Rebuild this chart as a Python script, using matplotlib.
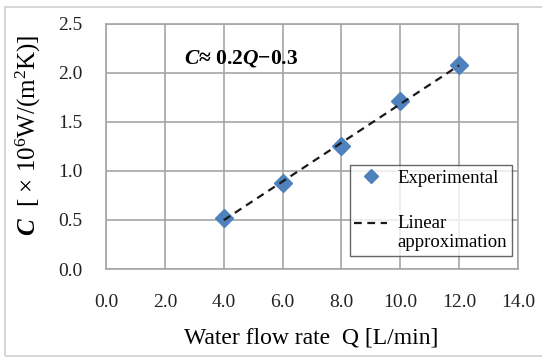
import numpy as np
import matplotlib.pyplot as plt
from matplotlib.patches import Rectangle
from matplotlib.legend_handler import HandlerLine2D

plt.rcParams["font.family"] = ["Liberation Serif", "DejaVu Serif"]
plt.rcParams["mathtext.fontset"] = "custom"
plt.rcParams["mathtext.rm"] = "Liberation Serif"
plt.rcParams["mathtext.it"] = "Liberation Serif:italic"
plt.rcParams["mathtext.bf"] = "Liberation Serif:bold"
plt.rcParams["mathtext.bfit"] = "Liberation Serif:italic:bold"

# measured heat transfer coefficient vs flow rate
flow_rate = [4.0, 6.0, 8.0, 10.0, 12.0]      # L/min
coef = [0.52, 0.88, 1.25, 1.71, 2.08]        # x 10^6 W/(m^2 K)

xticks = [0, 2, 4, 6, 8, 10, 12, 14]
yticks = [0.0, 0.5, 1.0, 1.5, 2.0, 2.5]

# least squares trend line over the measured range
slope, icpt = np.polyfit(flow_rate, coef, 1)
q_fit = np.array([flow_rate[0], flow_rate[-1]])
c_fit = slope * q_fit + icpt


class FirstLineHandler(HandlerLine2D):
    """Put the legend line level with the first row of a two-line label."""
    def __init__(self, shift, **kw):
        super().__init__(**kw)
        self.shift = shift

    def create_artists(self, legend, orig_handle, xdescent, ydescent,
                       width, height, fontsize, trans):
        arts = super().create_artists(legend, orig_handle, xdescent, ydescent,
                                      width, height, fontsize, trans)
        for a in arts:
            a.set_ydata(np.asarray(a.get_ydata()) + self.shift)
        return arts


fig = plt.figure(figsize=(5.42, 3.58), dpi=100)
fig.patches.append(Rectangle((0.009, 0.005), 1.2, 0.975, transform=fig.transFigure,
                             fill=False, edgecolor="#d0d0d0", linewidth=1.2))
ax = fig.add_axes([0.1956, 0.2486, 0.7601, 0.6844])

grid_col = "#a6a6a6"
ax.grid(True, color=grid_col, linewidth=1.2)
ax.set_axisbelow(True)
for s in ax.spines.values():
    s.set_color(grid_col)
    s.set_linewidth(1.2)

ax.plot(flow_rate, coef, linestyle="none", marker="D", markersize=9,
        color="#4f81bd", label="Experimental", zorder=3)
fit_line, = ax.plot(q_fit, c_fit, linestyle=(0, (3.5, 2.5)), color="#1a1a1a",
                    linewidth=1.6, label="Linear\napproximation", zorder=4)

ax.set_xlim(0, 14)
ax.set_ylim(0, 2.5)
ax.set_xticks(xticks)
ax.set_xticklabels([f"{v:.1f}" for v in xticks])
ax.set_yticks(yticks)
ax.set_yticklabels([f"{v:.1f}" for v in yticks])
ax.tick_params(length=0, labelsize=14, colors="#222222")
ax.tick_params(axis="x", pad=18)
ax.tick_params(axis="y", pad=17)

ax.set_xlabel("Water flow rate  Q [L/min]", fontsize=17)
ax.xaxis.set_label_coords(0.499, -0.282)
ax.xaxis.label.set_va("center")
ax.set_ylabel(r"$\mathbfit{C}$  [ × 10$^6$W/(m$^2$K)]", fontsize=18)
ax.yaxis.set_label_coords(-0.189, 0.547)
ax.yaxis.label.set_va("center")

ax.text(2.65, 2.15, r"$\mathbfit{C}$≈ 0.2$\mathbfit{Q}$−0.3", fontsize=15.5,
        fontweight="bold", va="center")

leg = ax.legend(loc="lower right", bbox_to_anchor=(0.985, 0.053), fontsize=13.5,
                frameon=True, fancybox=False, edgecolor="#404040",
                labelspacing=1.5, handlelength=1.75, handletextpad=0.55,
                borderpad=0.25, borderaxespad=0.0, markerscale=0.8,
                handler_map={fit_line: FirstLineHandler(shift=7.5)})
leg.get_frame().set_linewidth(1.0)

fig.savefig("out.png", dpi=100)
